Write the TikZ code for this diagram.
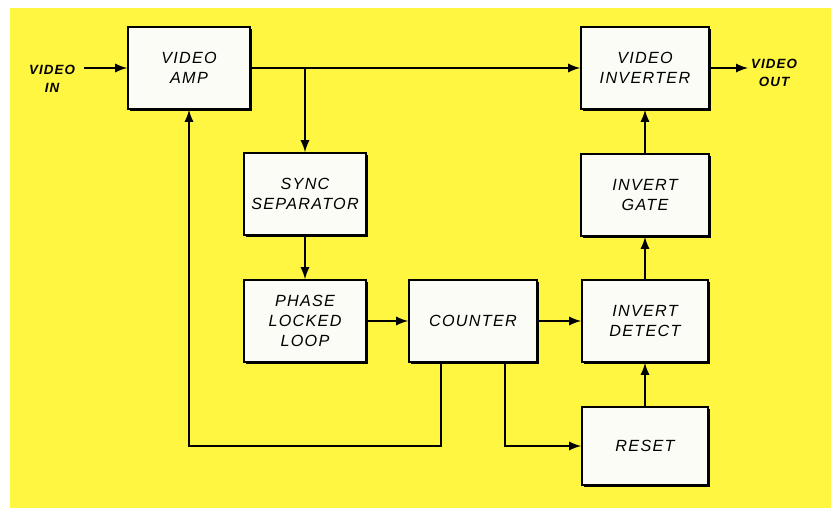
\documentclass[tikz,border=0pt]{standalone}
\usepackage{fontspec}
\usepackage{xcolor}
\usepackage{tikz}
\usetikzlibrary{shadows}
\newfontfamily\hand[LetterSpace=8]{Liberation Sans}
\definecolor{giallo}{RGB}{255,246,66}
\definecolor{carta}{RGB}{252,252,246}

\begin{document}
\begin{tikzpicture}[x=0.025cm, y=-0.025cm,
    block/.style={draw, line width=1.2pt, fill=carta, minimum width=3.05cm, minimum height=2.05cm,
        align=center, font=\hand\itshape\fontsize{11.5}{14}\selectfont,
        drop shadow={shadow xshift=0.06cm, shadow yshift=-0.06cm, fill=black, opacity=1}},
    txt/.style={align=center, font=\hand\bfseries\itshape\fontsize{9.5}{12.5}\selectfont, inner sep=0pt},
    arr/.style={line width=1.9pt, -latex}]

    % Fondo
    \useasboundingbox (0,0) rectangle (831,508);
    \fill[giallo] (10,8) rectangle (831,508);

    % Blocchi
    \node[block] (amp) at (189,68) {VIDEO\\AMP};
    \node[block] (sync) at (305,194) {SYNC\\SEPARATOR};
    \node[block] (pll) at (305,321) {PHASE\\LOCKED\\LOOP};
    \node[block, minimum width=3.2cm] (counter) at (473,321) {COUNTER};
    \node[block, minimum width=3.15cm] (detect) at (645,321) {INVERT\\DETECT};
    \node[block, minimum width=3.15cm, minimum height=1.95cm] (reset) at (645,446) {RESET};
    \node[block, minimum width=3.2cm] (inverter) at (645,68) {VIDEO\\INVERTER};
    \node[block, minimum width=3.2cm] (gate) at (645,195) {INVERT\\GATE};

    % Ingresso e uscita
    \node[txt] (invideo) at (52,79) {VIDEO\\IN};
    \node[txt] (outvideo) at (774,73) {VIDEO\\OUT};
    \coordinate (vin) at (84,68);
    \coordinate (vout) at (748,68);

    % Segnale
    \draw[arr] (vin) -- (amp.west);
    \draw[arr] (amp.east) -- (inverter.west);
    \draw[arr] (amp.east -| sync.north) -- (sync.north);
    \draw[arr] (sync) -- (pll);
    \draw[arr] (pll) -- (counter);
    \draw[arr] (counter) -- (detect);
    \draw[arr] (reset) -- (detect);
    \draw[arr] (detect) -- (gate);
    \draw[arr] (gate) -- (inverter);
    \draw[arr] (inverter.east) -- (vout);

    % Ritorno
    \draw[arr] ([xshift=-0.8cm]counter.south) -- ([xshift=-0.8cm]counter.south |- reset.west) -| (amp.south);
    \draw[arr] ([xshift=0.8cm]counter.south) |- (reset.west);
\end{tikzpicture}
\end{document}
